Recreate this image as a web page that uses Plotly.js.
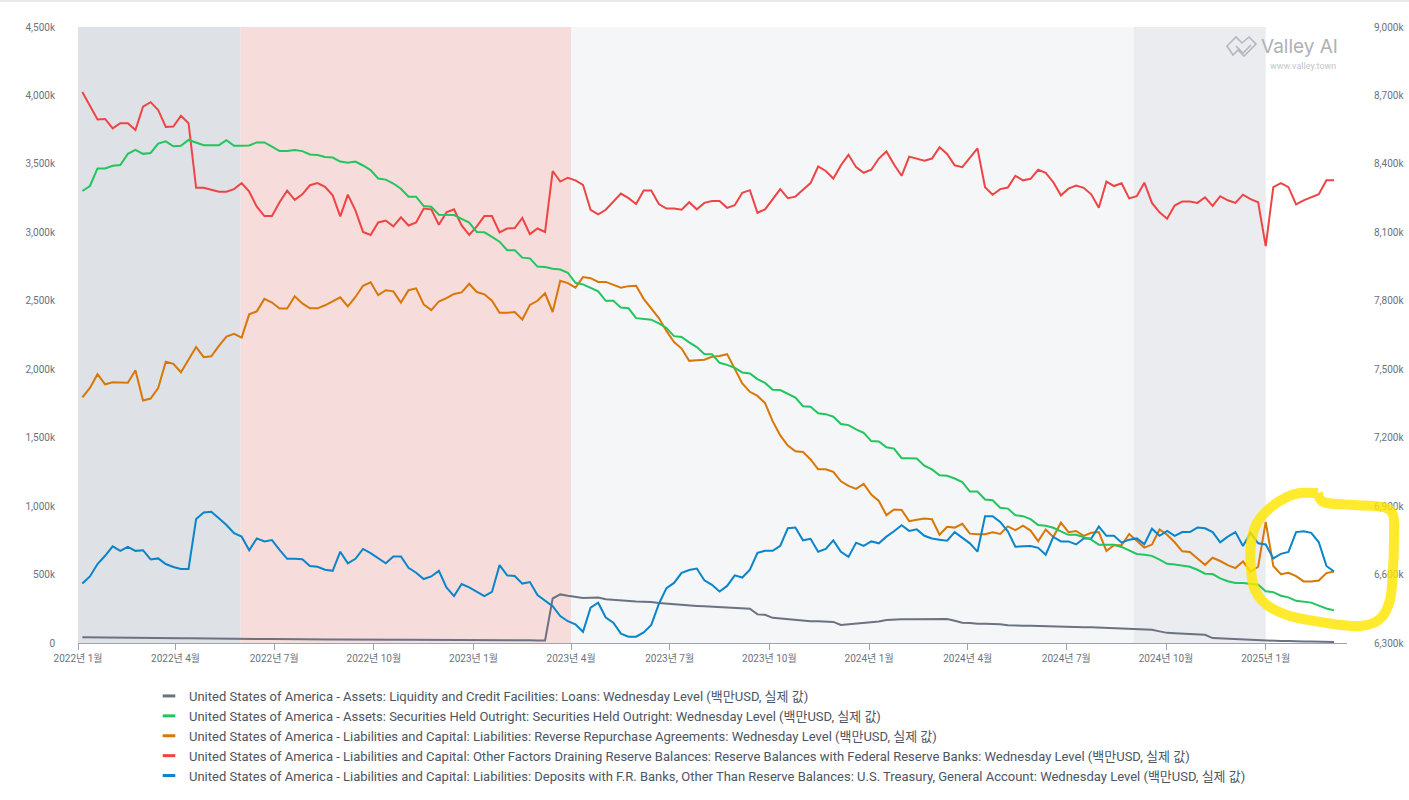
<!DOCTYPE html>
<html lang="ko">
<head>
<meta charset="utf-8">
<script src="https://cdn.plot.ly/plotly-3.0.1.min.js"></script>
<style>
  html, body { margin: 0; padding: 0; background: #ffffff; }
  #chart { width: 1409px; height: 800px; }
</style>
</head>
<body>
<div id="chart"></div>
<script>
// Weekly (Wednesday) H.4.1 levels, values in thousands of million USD (shown as "k").
const FIRST_WEDNESDAY = '2022-01-05';

const SERIES_NAMES = [
  'United States of America - Assets: Liquidity and Credit Facilities: Loans: Wednesday Level (백만USD, 실제 값)',
  'United States of America - Assets: Securities Held Outright: Securities Held Outright: Wednesday Level (백만USD, 실제 값)',
  'United States of America - Liabilities and Capital: Liabilities: Reverse Repurchase Agreements: Wednesday Level (백만USD, 실제 값)',
  'United States of America - Liabilities and Capital: Other Factors Draining Reserve Balances: Reserve Balances with Federal Reserve Banks: Wednesday Level (백만USD, 실제 값)',
  'United States of America - Liabilities and Capital: Liabilities: Deposits with F.R. Banks, Other Than Reserve Balances: U.S. Treasury, General Account: Wednesday Level (백만USD, 실제 값)'
];

const LOANS = [
  42, 41, 40, 40, 39, 39, 38, 38, 37, 37,
  36, 36, 35, 34, 34, 33, 33, 32, 32, 31,
  31, 30, 30, 30, 29, 29, 28, 28, 28, 27,
  27, 27, 26, 26, 26, 25, 25, 25, 24, 24,
  24, 23, 23, 23, 23, 24, 25, 24, 23, 22,
  22, 22, 21, 21, 21, 21, 20, 20, 20, 20,
  19, 19, 325, 355, 345, 335, 328, 330, 333, 320,
  315, 315, 305, 303, 302, 300, 292, 287, 282, 279,
  276, 271, 268, 265, 262, 256, 253, 253, 250, 209,
  206, 184, 179, 173, 170, 168, 159, 159, 157, 154,
  132, 137, 143, 148, 151, 157, 168, 173, 173, 173,
  173, 173, 173, 173, 176, 162, 148, 146, 140, 140,
  140, 137, 129, 126, 126, 126, 124, 121, 121, 118,
  118, 115, 115, 115, 113, 110, 107, 107, 107, 104,
  102, 96, 85, 74, 71, 69, 63, 63, 60, 36,
  33, 30, 30, 27, 25, 19, 16, 16, 14, 14,
  11, 11, 11, 11, 11, 8
];

const SECURITIES = [
  8281, 8303, 8380, 8380, 8392, 8395, 8444, 8461, 8444, 8448,
  8489, 8499, 8477, 8479, 8505, 8495, 8482, 8482, 8482, 8504,
  8479, 8479, 8481, 8494, 8494, 8476, 8456, 8456, 8461, 8456,
  8441, 8439, 8430, 8428, 8410, 8405, 8410, 8393, 8373, 8336,
  8331, 8314, 8291, 8256, 8256, 8215, 8212, 8177, 8176, 8176,
  8159, 8143, 8101, 8100, 8080, 8059, 8022, 8022, 7989, 7986,
  7950, 7948, 7940, 7937, 7923, 7879, 7872, 7857, 7841, 7800,
  7800, 7770, 7767, 7724, 7719, 7717, 7701, 7681, 7645, 7641,
  7618, 7597, 7567, 7566, 7528, 7519, 7506, 7486, 7481, 7457,
  7440, 7410, 7409, 7394, 7376, 7338, 7336, 7307, 7303, 7292,
  7260, 7255, 7236, 7221, 7185, 7183, 7158, 7152, 7110, 7110,
  7109, 7077, 7061, 7035, 7033, 7021, 7005, 6964, 6964, 6929,
  6926, 6893, 6889, 6860, 6856, 6843, 6817, 6814, 6805, 6789,
  6774, 6774, 6764, 6753, 6731, 6731, 6731, 6721, 6706, 6690,
  6687, 6682, 6665, 6647, 6644, 6639, 6634, 6621, 6604, 6602,
  6583, 6571, 6563, 6563, 6558, 6555, 6527, 6523, 6507, 6500,
  6485, 6480, 6477, 6464, 6451, 6443
];

const REVERSE_REPO = [
  1794, 1863, 1964, 1890, 1904, 1904, 1901, 1992, 1772, 1786,
  1863, 2055, 2039, 1978, 2069, 2162, 2088, 2094, 2171, 2239,
  2258, 2231, 2401, 2423, 2514, 2487, 2443, 2443, 2533, 2481,
  2445, 2445, 2467, 2495, 2525, 2459, 2528, 2610, 2635, 2541,
  2577, 2569, 2487, 2577, 2591, 2473, 2432, 2495, 2519, 2550,
  2561, 2624, 2564, 2547, 2500, 2412, 2412, 2418, 2363, 2470,
  2500, 2555, 2418, 2646, 2629, 2596, 2673, 2665, 2638, 2638,
  2618, 2596, 2607, 2610, 2514, 2445, 2374, 2280, 2198, 2151,
  2061, 2066, 2069, 2091, 2096, 2110, 2006, 1896, 1835, 1805,
  1753, 1621, 1517, 1442, 1401, 1396, 1341, 1269, 1269, 1250,
  1181, 1148, 1126, 1162, 1085, 1038, 934, 975, 972, 890,
  901, 909, 904, 791, 849, 843, 871, 799, 794, 794,
  808, 797, 852, 824, 857, 821, 744, 829, 774, 879,
  810, 818, 783, 805, 810, 673, 714, 714, 796, 747,
  697, 719, 829, 791, 736, 670, 665, 618, 571, 623,
  599, 569, 547, 596, 522, 557, 885, 563, 502, 513,
  489, 450, 450, 456, 511, 522
];

const RESERVES = [
  4025, 3924, 3825, 3828, 3759, 3797, 3797, 3748, 3918, 3951,
  3894, 3770, 3773, 3852, 3797, 3325, 3325, 3311, 3297, 3297,
  3316, 3360, 3297, 3187, 3119, 3119, 3220, 3305, 3237, 3278,
  3344, 3360, 3333, 3270, 3116, 3275, 3160, 3003, 2981, 3072,
  3086, 3044, 3110, 3050, 3072, 3174, 3168, 3055, 3146, 3168,
  3050, 2981, 3044, 3119, 3119, 3000, 3028, 3031, 3105, 2987,
  3028, 3003, 3448, 3371, 3399, 3380, 3347, 3165, 3132, 3165,
  3228, 3283, 3250, 3207, 3305, 3305, 3207, 3174, 3174, 3165,
  3220, 3168, 3215, 3228, 3228, 3179, 3198, 3289, 3308, 3143,
  3168, 3242, 3316, 3250, 3261, 3311, 3360, 3481, 3448, 3393,
  3490, 3566, 3476, 3435, 3457, 3539, 3591, 3495, 3413, 3553,
  3539, 3523, 3539, 3621, 3572, 3490, 3476, 3545, 3613, 3330,
  3275, 3316, 3327, 3413, 3380, 3391, 3457, 3435, 3366, 3270,
  3319, 3341, 3325, 3278, 3179, 3371, 3338, 3358, 3248, 3264,
  3363, 3215, 3146, 3099, 3196, 3226, 3226, 3215, 3256, 3193,
  3264, 3234, 3215, 3275, 3242, 3220, 2899, 3330, 3360, 3330,
  3204, 3234, 3256, 3278, 3380, 3380
];

const TREASURY_ACCOUNT = [
  434, 486, 577, 637, 706, 673, 703, 673, 678, 610,
  618, 577, 555, 541, 541, 906, 953, 959, 912, 862,
  802, 777, 678, 764, 742, 752, 681, 615, 615, 612,
  563, 557, 535, 527, 667, 582, 615, 687, 656, 618,
  582, 632, 632, 549, 513, 467, 486, 527, 406, 343,
  431, 406, 376, 343, 373, 569, 494, 489, 434, 445,
  351, 310, 269, 197, 159, 137, 82, 258, 294, 186,
  148, 68, 46, 46, 77, 132, 285, 401, 439, 513,
  533, 544, 458, 425, 376, 417, 494, 478, 535, 659,
  673, 673, 709, 838, 843, 750, 761, 667, 687, 750,
  667, 629, 733, 709, 742, 728, 777, 816, 860, 819,
  830, 783, 764, 755, 747, 810, 769, 728, 667, 926,
  926, 884, 816, 703, 706, 709, 695, 645, 775, 742,
  742, 720, 764, 764, 851, 783, 783, 733, 755, 764,
  722, 835, 783, 818, 783, 810, 810, 843, 838, 810,
  736, 777, 810, 709, 805, 728, 720, 618, 651, 665,
  810, 816, 805, 736, 563, 522
];

// Axis ticks
const X_TICK_DATES = ['2022-01-01', '2022-04-01', '2022-07-01', '2022-10-01',
  '2023-01-01', '2023-04-01', '2023-07-01', '2023-10-01',
  '2024-01-01', '2024-04-01', '2024-07-01', '2024-10-01', '2025-01-01'];
const X_TICK_LABELS = ['2022년 1월', '2022년 4월', '2022년 7월', '2022년 10월',
  '2023년 1월', '2023년 4월', '2023년 7월', '2023년 10월',
  '2024년 1월', '2024년 4월', '2024년 7월', '2024년 10월', '2025년 1월'];
const LEFT_TICKS = [0, 500, 1000, 1500, 2000, 2500, 3000, 3500, 4000, 4500];
const LEFT_TICK_LABELS = ['0', '500k', '1,000k', '1,500k', '2,000k', '2,500k', '3,000k', '3,500k', '4,000k', '4,500k'];
const RIGHT_TICKS = [6300, 6600, 6900, 7200, 7500, 7800, 8100, 8400, 8700, 9000];
const RIGHT_TICK_LABELS = ['6,300k', '6,600k', '6,900k', '7,200k', '7,500k', '7,800k', '8,100k', '8,400k', '8,700k', '9,000k'];

// Shaded periods behind the lines
const PERIOD_STARTS = ['2022-01-01', '2022-05-31', '2023-04-01', '2024-09-01'];
const PERIOD_ENDS   = ['2022-05-31', '2023-04-01', '2024-09-01', '2025-01-01'];
const PERIOD_COLORS = ['#dee1e6', '#f7dcdc', '#f4f6f8', '#eaecf0'];

const X_RANGE = ['2022-01-01', '2025-03-17'];

// ---- build the weekly date axis ----
function weeklyDates(startIso, count) {
  const out = [];
  const t0 = Date.parse(startIso + 'T00:00:00Z');
  for (let i = 0; i < count; i++) {
    out.push(new Date(t0 + i * 7 * 86400000).toISOString().slice(0, 10));
  }
  return out;
}

const SERIES = [
  { values: LOANS,            color: '#6b7280', axis: 'y'  },
  { values: SECURITIES,       color: '#22c55e', axis: 'y2' },
  { values: REVERSE_REPO,     color: '#d97706', axis: 'y'  },
  { values: RESERVES,         color: '#ef4444', axis: 'y'  },
  { values: TREASURY_ACCOUNT, color: '#0a85c9', axis: 'y'  }
];

const maxLen = Math.max(...SERIES.map(s => s.values.length));
const DATES = weeklyDates(FIRST_WEDNESDAY, maxLen);

const traces = [];
SERIES.forEach((s, i) => {
  traces.push({
    type: 'scatter', mode: 'lines',
    x: DATES.slice(0, s.values.length), y: s.values,
    yaxis: s.axis, name: SERIES_NAMES[i], legendgroup: 'g' + i,
    showlegend: false,
    line: { color: s.color, width: 2 },
    hovertemplate: '%{x}<br>%{y:,}k<extra></extra>'
  });
});
// short-dash legend keys
SERIES.forEach((s, i) => {
  traces.push({
    type: 'scatter', mode: 'markers', x: [null], y: [null],
    name: SERIES_NAMES[i], legendgroup: 'g' + i, showlegend: true,
    marker: { symbol: 'line-ew-open', size: 9, color: s.color, line: { color: s.color, width: 3 } },
    hoverinfo: 'skip'
  });
});

// ---- page-pixel helpers for decorations (plot area: x 78..1347, y 27..643) ----
const PL = 78, PR = 1347, PT = 27, PB = 643;
const px2paper = (x, y) => [(x - PL) / (PR - PL), (PB - y) / (PB - PT)];
const fmt = p => p[0].toFixed(5) + ',' + p[1].toFixed(5);

function smoothClosedPath(pts) {
  let d = 'M' + fmt(px2paper(pts[0][0], pts[0][1]));
  for (let i = 0; i < pts.length - 1; i++) {
    const p0 = pts[i - 1] || pts[i], p1 = pts[i], p2 = pts[i + 1], p3 = pts[i + 2] || pts[i + 1];
    const c1 = [p1[0] + (p2[0] - p0[0]) / 6, p1[1] + (p2[1] - p0[1]) / 6];
    const c2 = [p2[0] - (p3[0] - p1[0]) / 6, p2[1] - (p3[1] - p1[1]) / 6];
    d += ' C' + fmt(px2paper(c1[0], c1[1])) + ' ' + fmt(px2paper(c2[0], c2[1])) + ' ' + fmt(px2paper(p2[0], p2[1]));
  }
  return d;
}

const highlightLoop = [
  [1318, 493], [1300, 493], [1287, 497], [1270, 508], [1257, 523], [1251, 543],
  [1251, 570], [1255, 590], [1267, 605], [1290, 616], [1327, 623], [1360, 626],
  [1380, 619], [1390, 600], [1393, 570], [1394, 537], [1393, 515], [1383, 507],
  [1353, 505], [1327, 503], [1320, 499], [1318, 493]
];

function polyPath(pts, close) {
  return pts.map((p, i) => (i ? 'L' : 'M') + fmt(px2paper(p[0], p[1]))).join(' ') + (close ? ' Z' : '');
}

const shapes = [];
for (let i = 0; i < PERIOD_STARTS.length; i++) {
  shapes.push({
    type: 'rect', xref: 'x', yref: 'paper', x0: PERIOD_STARTS[i], x1: PERIOD_ENDS[i], y0: 0, y1: 1,
    fillcolor: PERIOD_COLORS[i], line: { width: 0 }, layer: 'below'
  });
}
// thin rule along the top edge of the page
shapes.push({
  type: 'line', xref: 'paper', yref: 'paper',
  x0: px2paper(0, 1)[0], x1: px2paper(1409, 1)[0], y0: px2paper(0, 1)[1], y1: px2paper(0, 1)[1],
  line: { color: '#e5e7eb', width: 2 }
});
// logo mark
shapes.push({
  type: 'path', xref: 'paper', yref: 'paper',
  path: polyPath([[1227, 46], [1236, 37], [1242, 43], [1249, 37], [1256, 44], [1244, 56], [1238, 50], [1233, 55]], true),
  line: { color: '#b4b7bc', width: 1.6 }, fillcolor: 'rgba(0,0,0,0)'
});
shapes.push({
  type: 'path', xref: 'paper', yref: 'paper',
  path: polyPath([[1236, 46], [1243, 53], [1251, 45]], false),
  line: { color: '#b4b7bc', width: 1.6 }
});
// marker highlight around the latest readings
shapes.push({
  type: 'path', xref: 'paper', yref: 'paper', layer: 'above',
  path: smoothClosedPath(highlightLoop),
  line: { color: '#ffe600', width: 10 }, opacity: 0.82
});

const tickFont = { family: 'Roboto, "Noto Sans CJK KR", sans-serif', size: 10, color: '#6b7280' };

const layout = {
  width: 1409, height: 800,
  margin: { l: PL, r: 1409 - PR, t: PT, b: 800 - PB, autoexpand: false },
  paper_bgcolor: '#ffffff', plot_bgcolor: '#ffffff',
  font: { family: 'Roboto, "Noto Sans CJK KR", sans-serif', color: '#4b5563' },
  showlegend: true,
  xaxis: {
    type: 'date', range: X_RANGE, tickvals: X_TICK_DATES, ticktext: X_TICK_LABELS,
    showgrid: false, zeroline: false, showline: true, linecolor: '#9ca3af', linewidth: 1,
    ticks: 'outside', ticklen: 6, tickcolor: '#9ca3af', tickfont: tickFont, fixedrange: true
  },
  yaxis: {
    range: [0, 4500], tickvals: LEFT_TICKS, ticktext: LEFT_TICK_LABELS,
    showgrid: false, zeroline: false, showline: false, ticks: '', ticklabelstandoff: 22,
    tickfont: tickFont, fixedrange: true
  },
  yaxis2: {
    range: [6300, 9000], tickvals: RIGHT_TICKS, ticktext: RIGHT_TICK_LABELS,
    overlaying: 'y', side: 'right', showgrid: false, zeroline: false, showline: false,
    ticks: '', ticklabelstandoff: 26, tickfont: tickFont, fixedrange: true
  },
  legend: {
    orientation: 'v', x: px2paper(149, 0)[0], y: px2paper(0, 681)[1], xanchor: 'left', yanchor: 'top',
    font: { family: 'Roboto, "Noto Sans CJK KR", sans-serif', size: 13, color: '#4b5563' },
    bgcolor: 'rgba(0,0,0,0)', tracegroupgap: 0, traceorder: 'normal'
  },
  annotations: [
    { xref: 'paper', yref: 'paper', x: px2paper(1259, 0)[0], y: px2paper(0, 47)[1], xanchor: 'left', yanchor: 'middle',
      text: 'Valley AI', showarrow: false, font: { family: 'Inter, sans-serif', size: 19, color: '#aeb1b6' } },
    { xref: 'paper', yref: 'paper', x: px2paper(1338, 0)[0], y: px2paper(0, 66)[1], xanchor: 'right', yanchor: 'middle',
      text: 'www.valley.town', showarrow: false, font: { family: 'Roboto, sans-serif', size: 9, color: '#c3c6ca' } }
  ],
  shapes: shapes,
  hovermode: 'closest'
};

Plotly.newPlot('chart', traces, layout, { displayModeBar: false, responsive: false });
</script>
</body>
</html>
